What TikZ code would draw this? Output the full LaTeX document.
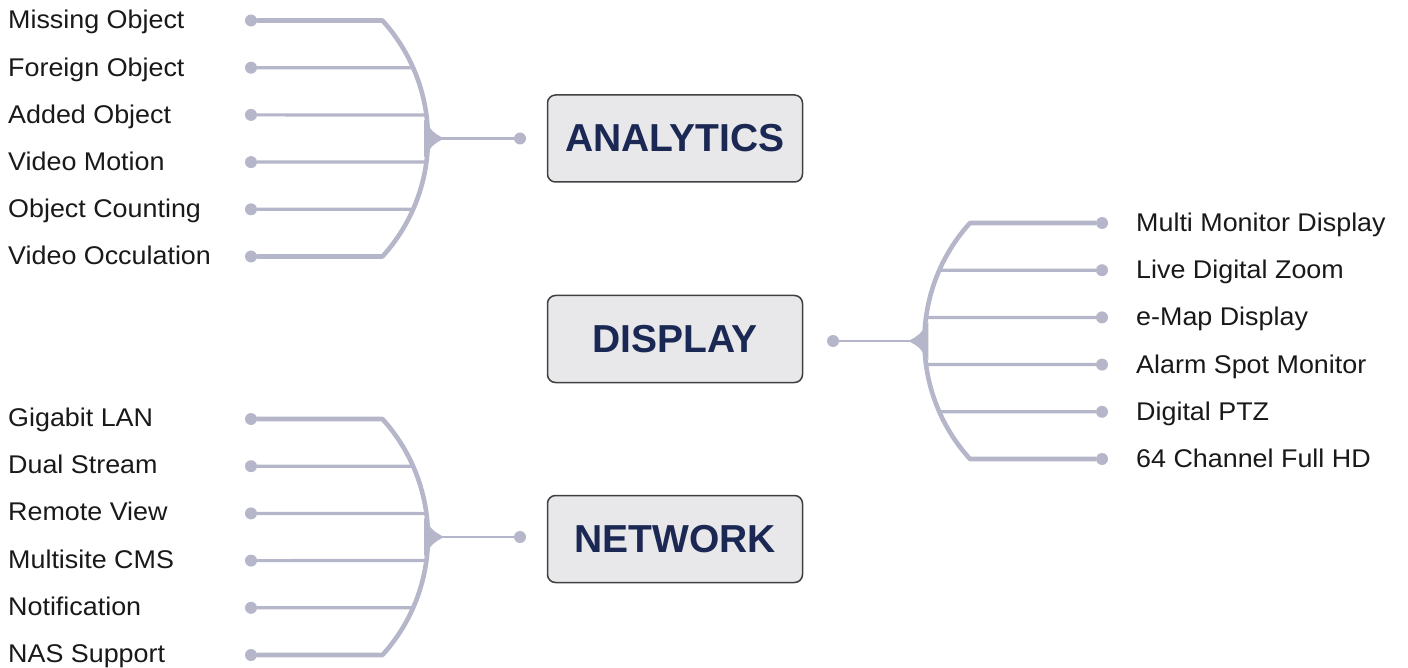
\documentclass[tikz,border=0pt]{standalone}
\usepackage{fontspec}
\setmainfont{Liberation Sans}
\newfontfamily\featfont{Liberation Sans}[FakeStretch=1.05]
\usetikzlibrary{positioning}

\definecolor{branch}{RGB}{182,182,202}
\definecolor{boxfill}{RGB}{232,232,234}
\definecolor{boxtext}{RGB}{27,40,84}
\definecolor{feattext}{RGB}{25,25,25}

\tikzset{
  topic/.style={draw=black!75, line width=1.5pt, rounded corners=8pt, fill=boxfill,
    minimum width=255pt, minimum height=87pt, text=boxtext,
    font=\fontsize{39}{39}\selectfont\bfseries},
  feature/.style={anchor=base west, inner sep=0pt, text=feattext,
    font=\featfont\fontsize{25.6}{30}\selectfont},
  pin/.style={circle, fill=branch, inner sep=0pt, minimum size=12pt},
  twig/.style={draw=branch, line width=3.2pt},
  limb/.style={draw=branch, line width=4.6pt, line join=round},
  stem/.style={draw=branch, line width=2.8pt},
}

\begin{document}
\begin{tikzpicture}[x=1pt,y=-1pt]
\useasboundingbox (0,0) rectangle (1408,668);

% analytics
\node[topic] (analytics) at (675,138.5) {ANALYTICS};
\node[pin] (ahub) at (520,138.5) {};
\coordinate (acen) at (252.4,138.5);
\coordinate (apeak) at (428,138.5);
\foreach \i/\txt in {1/Missing Object,2/Foreign Object,3/Added Object,4/Video Motion,5/Object Counting,6/Video Occulation}{
  \node[pin] (a\i) at (251,{138.5+47.2*(\i-3.5)}) {};
  \node[feature] (alab\i) at (8,{138.5+47.2*(\i-3.5)+8.5}) {\txt};
}
\foreach \i/\ang in {2/-23.78,3/-7.72,4/7.72,5/23.78}
  \draw[twig] (a\i) -- ([shift={(acen)}]\ang:175.6);
\draw[limb] (a1) -- ([shift={(acen)}]-42.22:175.6) arc[start angle=-42.22,end angle=42.22,radius=175.6] -- (a6);
\draw[stem] (ahub) -- (apeak);
\fill[branch,shift={(apeak)}] (-4,-19) .. controls (5,-6) .. (16,0) .. controls (5,6) .. (-4,19) -- cycle;

% display
\node[topic] (display) at (675,339) {DISPLAY};
\node[pin] (dhub) at (833,341) {};
\coordinate (dcen) at (1100,341);
\coordinate (dpeak) at (924.4,341);
\foreach \i/\txt in {1/Multi Monitor Display,2/Live Digital Zoom,3/e-Map Display,4/Alarm Spot Monitor,5/Digital PTZ,6/64 Channel Full HD}{
  \node[pin] (d\i) at (1102,{341+47.2*(\i-3.5)}) {};
  \node[feature] (dlab\i) at (1136,{341+47.2*(\i-3.5)+8.5}) {\txt};
}
\foreach \i/\ang in {2/203.78,3/187.72,4/172.28,5/156.22}
  \draw[twig] (d\i) -- ([shift={(dcen)}]\ang:175.6);
\draw[limb] (d1) -- ([shift={(dcen)}]222.22:175.6) arc[start angle=222.22,end angle=137.78,radius=175.6] -- (d6);
\draw[stem] (dhub) -- (dpeak);
\fill[branch,shift={(dpeak)}] (4,-19) .. controls (-5,-6) .. (-16,0) .. controls (-5,6) .. (4,19) -- cycle;

% network
\node[topic] (network) at (675,539) {NETWORK};
\node[pin] (nhub) at (520,537) {};
\coordinate (ncen) at (252.4,537);
\coordinate (npeak) at (428,537);
\foreach \i/\txt in {1/Gigabit LAN,2/Dual Stream,3/Remote View,4/Multisite CMS,5/Notification,6/NAS Support}{
  \node[pin] (n\i) at (251,{537+47.2*(\i-3.5)}) {};
  \node[feature] (nlab\i) at (8,{537+47.2*(\i-3.5)+7.5}) {\txt};
}
\foreach \i/\ang in {2/-23.78,3/-7.72,4/7.72,5/23.78}
  \draw[twig] (n\i) -- ([shift={(ncen)}]\ang:175.6);
\draw[limb] (n1) -- ([shift={(ncen)}]-42.22:175.6) arc[start angle=-42.22,end angle=42.22,radius=175.6] -- (n6);
\draw[stem] (nhub) -- (npeak);
\fill[branch,shift={(npeak)}] (-4,-19) .. controls (5,-6) .. (16,0) .. controls (5,6) .. (-4,19) -- cycle;

\end{tikzpicture}
\end{document}
